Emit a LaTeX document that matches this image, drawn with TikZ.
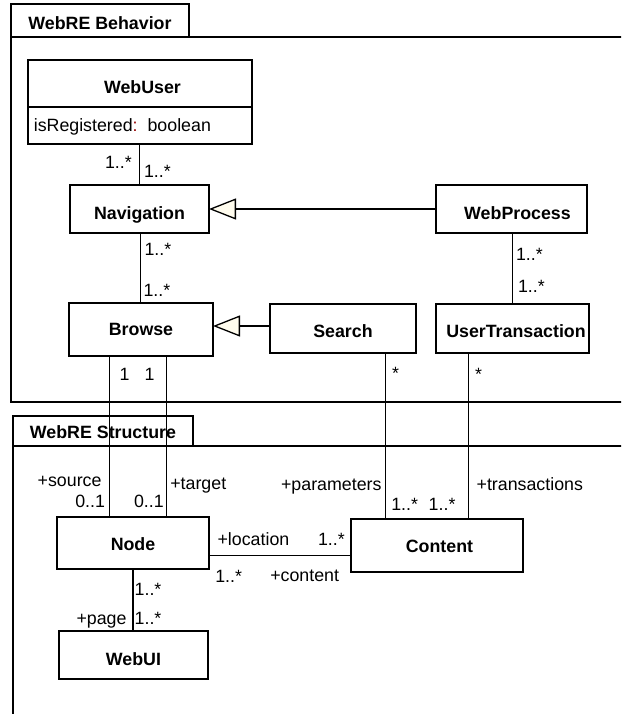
\documentclass[tikz,border=0pt]{standalone}
\usepackage{fontspec}
\setmainfont{Liberation Sans}
\usetikzlibrary{arrows.meta}
\definecolor{cream}{RGB}{255,252,238}
\definecolor{colonred}{RGB}{150,0,0}
\begin{document}
\begin{tikzpicture}[x=1pt,y=-1pt,
  every node/.style={font=\fontsize{17.8}{21}\selectfont},
  box/.style={draw,line width=1.4pt,inner sep=0pt,outer sep=0pt,anchor=north west,
    font=\fontsize{17.8}{21}\selectfont\bfseries,text depth=0pt},
  pkg/.style={line width=1.4pt},
  conn/.style={line width=1.1pt},
  gen/.style={line width=1.1pt,-{Triangle[length=27pt,width=21pt,fill=cream,line width=1.3pt]}},
  lbl/.style={inner sep=0pt,outer sep=0pt}]
\useasboundingbox (0,0) rectangle (621,714);
\clip (0,0) rectangle (621,714);
% packages
\draw[pkg] (11,37) rectangle (640,402);
\node[box,minimum width=178pt,minimum height=33pt,text height=17.6pt] (behtab) at (11,4) {WebRE Behavior};
\draw[pkg] (13,446) rectangle (640,740);
\node[box,minimum width=180pt,minimum height=30pt,text height=14.6pt] (structab) at (13,416) {WebRE Structure};
% classes
\node[box,minimum width=224pt,minimum height=84pt] (webuser) at (28,60) {};
\coordinate (ydiv) at (0,107);
\draw[line width=1.4pt] (webuser.west |- ydiv) -- (webuser.east |- ydiv);
\node[lbl,font=\fontsize{17.8}{21}\selectfont\bfseries,anchor=base] (webusername) at (142.5,93.3) {WebUser};
\node[lbl,anchor=base west] (webuserattr) at (33.8,131.7) {isRegistered{\color{colonred}:}~~boolean};
\node[box,minimum width=139pt,minimum height=48pt,text height=20pt] (nav) at (70,185) {Navigation};
\node[box,minimum width=151pt,minimum height=48pt,text height=20pt] (wp) at (436,185) {\hspace*{12pt}WebProcess};
\node[box,minimum width=144pt,minimum height=53pt,text height=12.4pt] (browse) at (69,303) {Browse};
\node[box,minimum width=146pt,minimum height=49pt,text height=17.6pt] (search) at (270,304) {Search};
\node[box,minimum width=153pt,minimum height=49pt,text height=17.6pt] (ut) at (436,304) {\hspace*{7pt}UserTransaction};
\node[box,minimum width=152pt,minimum height=52pt,text height=15.4pt] (nodebox) at (57,517) {Node};
\node[box,minimum width=172pt,minimum height=53pt,text height=14.4pt] (content) at (351,519) {\hspace*{5pt}Content};
\node[box,minimum width=149pt,minimum height=48pt,text height=21.4pt] (webui) at (59,631) {WebUI};
% helper coordinates
\coordinate (xnb) at (140.7,0);
\coordinate (xsrc) at (109.7,0);
\coordinate (xtgt) at (166.7,0);
\coordinate (xpar) at (385.7,0);
\coordinate (xtr) at (468.3,0);
\coordinate (yloc) at (0,555.7);
\coordinate (ygen) at (0,326);
% connectors
\draw[conn] (nav.north) -- (nav.north |- webuser.south);
\draw[conn] (nav.south -| xnb) -- (browse.north -| xnb);
\draw[gen] (wp.west) -- (nav.east);
\draw[conn] (ut.north) -- (ut.north |- wp.south);
\draw[gen] (search.west |- ygen) -- (browse.east |- ygen);
\draw[conn] (browse.south -| xsrc) -- (nodebox.north -| xsrc);
\draw[conn] (browse.south -| xtgt) -- (nodebox.north -| xtgt);
\draw[conn] (search.south -| xpar) -- (content.north -| xpar);
\draw[conn] (ut.south -| xtr) -- (content.north -| xtr);
\draw[conn] (nodebox.east |- yloc) -- (content.west |- yloc);
\draw[conn] (nodebox.south) -- (nodebox.south |- webui.north);
% labels
\node[lbl,anchor=base west] (m1) at (105,168) {1..*};
\node[lbl,anchor=base west] (m2) at (144,178) {1..*};
\node[lbl,anchor=base west] (m3) at (144.5,255) {1..*};
\node[lbl,anchor=base west] (m4) at (143.5,296) {1..*};
\node[lbl,anchor=base west] (m5) at (516,260) {1..*};
\node[lbl,anchor=base west] (m6) at (518,292.7) {1..*};
\node[lbl,anchor=base west] (m7) at (119.7,380.7) {1};
\node[lbl,anchor=base west] (m8) at (144.7,380.7) {1};
\node[lbl,anchor=base west] (m9) at (392,379) {*};
\node[lbl,anchor=base west] (m10) at (475,380) {*};
\node[lbl,anchor=base east] (r1) at (101.5,486.5) {+source};
\node[lbl,anchor=base east] (m11) at (105,507.3) {0..1};
\node[lbl,anchor=base west] (m12) at (134,507) {0..1};
\node[lbl,anchor=base west] (r2) at (170.3,489) {+target};
\node[lbl,anchor=base east] (r3) at (381.5,490.7) {+parameters};
\node[lbl,anchor=base west] (m13) at (391.3,510) {1..*};
\node[lbl,anchor=base west] (m14) at (428.7,510) {1..*};
\node[lbl,anchor=base west] (r4) at (476.6,490.7) {+transactions};
\node[lbl,anchor=base west] (r5) at (217.6,545.7) {+location};
\node[lbl,anchor=base west] (m15) at (318,545.7) {1..*};
\node[lbl,anchor=base west] (m16) at (215.3,582.3) {1..*};
\node[lbl,anchor=base west] (r6) at (270.3,581.7) {+content};
\node[lbl,anchor=base west] (m17) at (134.7,595.7) {1..*};
\node[lbl,anchor=base east] (r7) at (126.5,624) {+page};
\node[lbl,anchor=base west] (m18) at (134.7,624) {1..*};
\end{tikzpicture}
\end{document}
